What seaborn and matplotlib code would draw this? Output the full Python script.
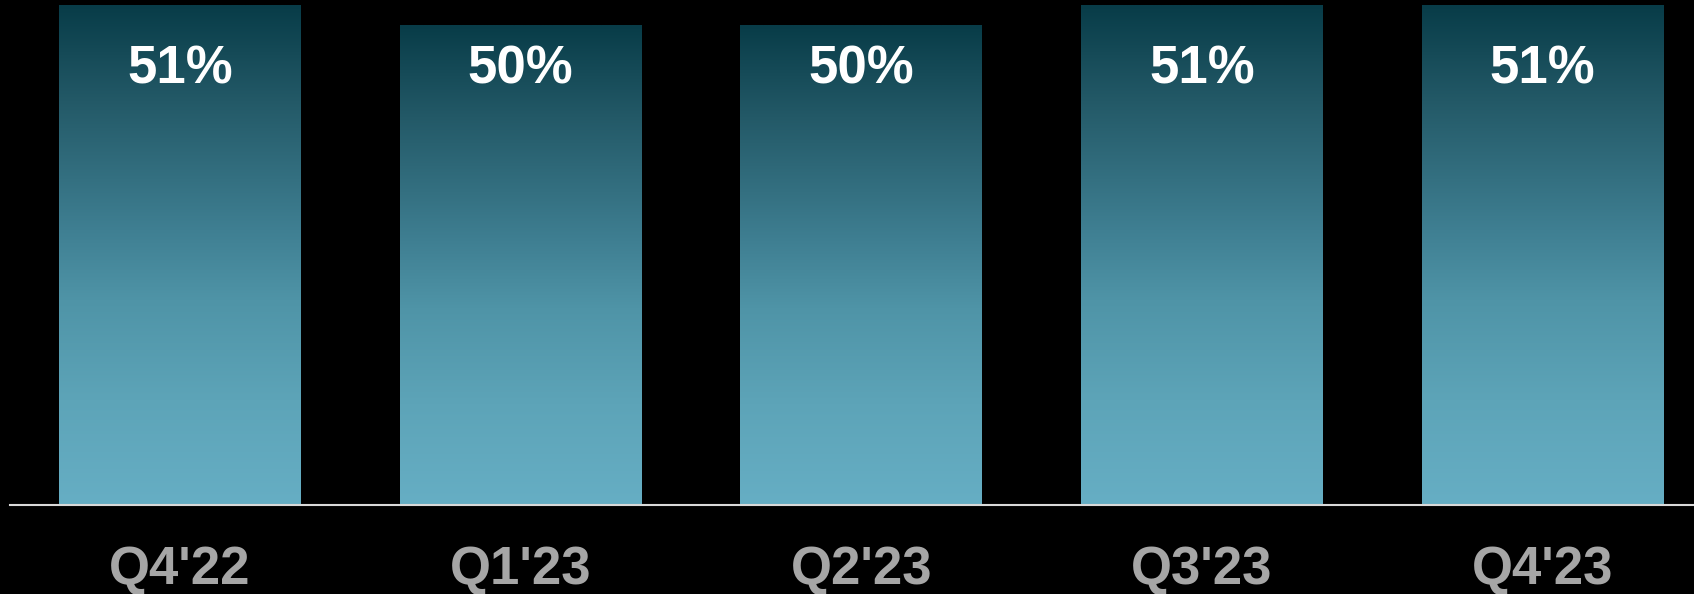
import numpy as np
import matplotlib
matplotlib.use("Agg")
import matplotlib.pyplot as plt
import matplotlib.transforms as mtransforms
from matplotlib.colors import LinearSegmentedColormap
import seaborn as sns
import pandas as pd

# ---- data ----
quarters = ["Q4'22", "Q1'23", "Q2'23", "Q3'23", "Q4'23"]
margin_pct = [51, 50, 50, 51, 51]
value_labels = ["51%", "50%", "50%", "51%", "51%"]

sns.set_theme(style="white")
plt.rcParams['font.family'] = ['Liberation Sans', 'DejaVu Sans']

W, H = 1694, 594
fig = plt.figure(figsize=(W / 100, H / 100), dpi=100, facecolor='black')
ax = fig.add_axes([10 / W, 89 / H, 1684 / W, 505 / H])
ax.set_facecolor('black')

df = pd.DataFrame({"quarter": quarters, "pct": margin_pct})
sns.barplot(data=df, x="quarter", y="pct", width=0.71, ax=ax,
            color="#65aec4", saturation=1)

ybot, ytop = 26.05, 51.3
xlo, xhi = -0.499, 4.445

cmap = LinearSegmentedColormap.from_list(
    "grad",
    [(0.0, "#66aec4"), (0.21, "#5da4b8"), (0.41, "#4f94a7"),
     (0.55, "#3f7f92"), (0.81, "#235967"), (1.0, "#083c48")])
grad = np.linspace(0, 1, 256).reshape(-1, 1)
for p in list(ax.patches):
    x0, w, h = p.get_x(), p.get_width(), p.get_height()
    ax.imshow(grad, cmap=cmap, extent=[x0, x0 + w, ybot, h], origin='lower',
              aspect='auto', zorder=2, interpolation='bilinear')
    p.set_facecolor('none')
    p.set_edgecolor('none')

ax.set_xlim(xlo, xhi)
ax.set_ylim(ybot, ytop)

trans = mtransforms.blended_transform_factory(ax.transData, ax.transAxes)
for i, lab in enumerate(value_labels):
    ax.text(i, 1 - 83 / 505, lab, transform=trans, ha='center', va='baseline',
            color='white', fontsize=38, fontweight='bold', zorder=5)

for s in ['top', 'right', 'left']:
    ax.spines[s].set_visible(False)
ax.spines['bottom'].set_color('#d9d9d9')
ax.spines['bottom'].set_linewidth(1.5)
ax.spines['bottom'].set_zorder(6)

ax.set_xlabel("")
ax.set_ylabel("")
ax.set_yticks([])
ax.tick_params(axis='x', length=0, pad=29, labelsize=38, labelcolor='#a6a6a6')
for lbl in ax.get_xticklabels():
    lbl.set_fontweight('bold')

fig.savefig("out.png", dpi=100, facecolor='black')
